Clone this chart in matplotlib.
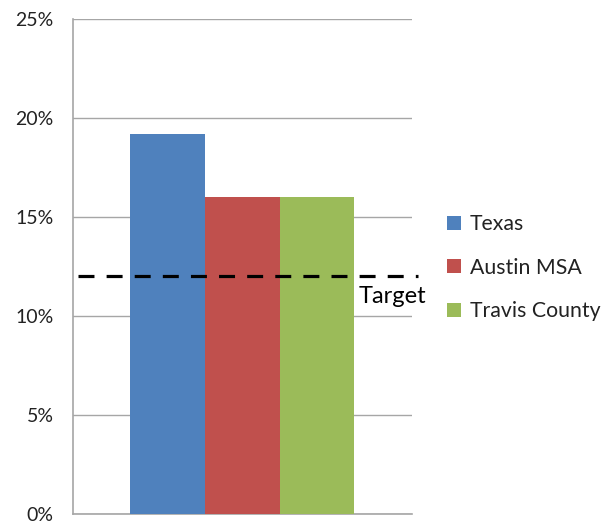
import matplotlib
matplotlib.use("Agg")
import matplotlib.pyplot as plt
from matplotlib.ticker import FuncFormatter
import matplotlib.transforms as mtransforms

# Data
categories = ["Texas", "Austin MSA", "Travis County"]
values = [19.2, 16.0, 16.0]
colors = ["#4F81BD", "#C0504D", "#9BBB59"]
target = 12.0
target_label = "Target"
y_ticks = [0, 5, 10, 15, 20, 25]

plt.rcParams["font.family"] = ["Lato", "DejaVu Sans"]

fig = plt.figure(figsize=(6.03, 5.22), dpi=100)
ax = fig.add_axes([0.121, 0.0153, 0.562, 0.9483])

positions = [-1, 0, 1]
handles = []
for pos, val, col, name in zip(positions, values, colors, categories):
    h = ax.bar(pos, val, width=1.0, color=col, edgecolor="none", label=name, zorder=3)
    handles.append(h)

ax.set_xlim(-2.27, 2.27)
ax.set_ylim(0, 25)
ax.set_yticks(y_ticks)
ax.yaxis.set_major_formatter(FuncFormatter(lambda v, p: f"{int(v)}%"))
ax.set_xticks([])
ax.tick_params(axis="y", length=0, pad=14, labelsize=14, labelcolor="#222222")

ax.grid(axis="y", color="#A6A6A6", linewidth=1.0, zorder=0)
for side in ["top", "right"]:
    ax.spines[side].set_visible(False)
for side in ["left", "bottom"]:
    ax.spines[side].set_color("#A6A6A6")
    ax.spines[side].set_linewidth(1.2)

# Target line spanning the plot, slightly past the right edge
trans = mtransforms.blended_transform_factory(ax.transAxes, ax.transData)
ax.plot([0.014, 1.018], [target, target], transform=trans, color="black",
        linewidth=2.3, dashes=(5.0, 3.8), clip_on=False, zorder=5)
ax.annotate(target_label, xy=(0.843, target), xycoords=trans,
            xytext=(0, -7), textcoords="offset points",
            ha="left", va="top", fontsize=17, color="black", zorder=6,
            annotation_clip=False)

leg = fig.legend(handles=handles, labels=categories, loc="center left",
                 bbox_to_anchor=(0.71, 0.487), frameon=False, fontsize=15.3,
                 handlelength=0.65, handleheight=0.65, handletextpad=0.4,
                 labelspacing=1.1, labelcolor="#222222")

fig.savefig("out.png", dpi=100)
